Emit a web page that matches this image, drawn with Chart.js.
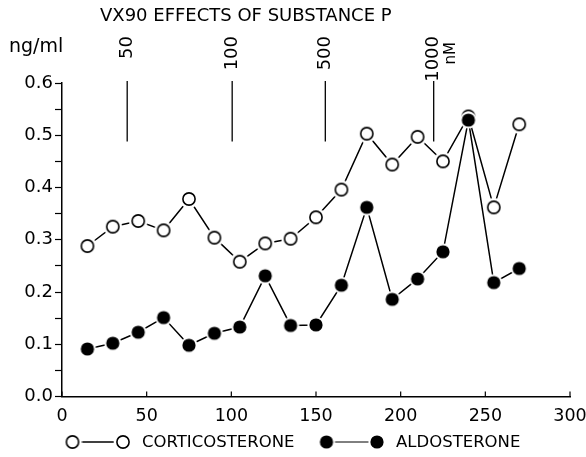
<!DOCTYPE html>
<html>
<head>
<meta charset="utf-8">
<title>VX90 effects of substance P</title>
<script src="https://cdn.jsdelivr.net/npm/chart.js@4"></script>
<style>
    html, body { margin: 0; padding: 0; background: #fff; }
    canvas { display: block; }
</style>
</head>
<body>
<canvas id="miGrafica" width="586" height="457"></canvas>
<script>
// Tiempo de cada muestra (eje X)
const tiempos = [15, 30, 45, 60, 75, 90, 105, 120, 135, 150, 165, 180, 195, 210, 225, 240, 255, 270];

// Valores en ng/ml
const corticosterona = [0.288, 0.325, 0.336, 0.318, 0.378, 0.304, 0.258, 0.293, 0.302, 0.343, 0.396, 0.503, 0.444, 0.497, 0.450, 0.536, 0.362, 0.521];
const aldosterona = [0.091, 0.102, 0.123, 0.151, 0.098, 0.121, 0.133, 0.231, 0.136, 0.137, 0.213, 0.362, 0.186, 0.225, 0.277, 0.529, 0.218, 0.245];

// Dosis de sustancia P y momento en que se aplican
const dosis = ['50', '100', '500', '1000'];
const tiempoDosis = [38.5, 100.5, 155.5, 219.5];

const titulo = 'VX90 EFFECTS OF SUBSTANCE P';
const unidadY = 'ng/ml';
const unidadDosis = 'nM';

const fuente = 'DejaVu Sans';
Chart.defaults.font.family = fuente;
Chart.defaults.color = '#000';

// Marcador con un halo blanco para que la linea no toque el circulo
function crearMarcador(relleno) {
    const c = document.createElement('canvas');
    c.width = 20;
    c.height = 20;
    const g = c.getContext('2d');
    g.fillStyle = '#fff';
    g.beginPath();
    g.arc(10, 10, relleno ? 8.6 : 9.4, 0, Math.PI * 2);
    g.fill();
    g.beginPath();
    if (relleno) {
        g.arc(10, 10, 6.6, 0, Math.PI * 2);
        g.fillStyle = '#000';
        g.fill();
    } else {
        g.arc(10, 10, 6.1, 0, Math.PI * 2);
        g.lineWidth = 1.6;
        g.strokeStyle = '#000';
        g.stroke();
    }
    return c;
}

const marcadorAbierto = crearMarcador(false);
const marcadorLleno = crearMarcador(true);

function puntos(valores) {
    return tiempos.map((t, i) => ({ x: t, y: valores[i] }));
}

// Textos, lineas de dosis, ticks interiores y leyenda
const anotaciones = {
    id: 'anotaciones',
    afterDraw(chart) {
        const ctx = chart.ctx;
        const x = chart.scales.x;
        const y = chart.scales.y;
        const area = chart.chartArea;

        ctx.save();
        ctx.fillStyle = '#000';
        ctx.strokeStyle = '#000';

        // titulo
        ctx.font = '18px "' + fuente + '"';
        ctx.textAlign = 'left';
        ctx.textBaseline = 'alphabetic';
        ctx.fillText(titulo, 100, 21);

        // unidad del eje Y
        ctx.font = '19px "' + fuente + '"';
        ctx.fillText(unidadY, 9, 52);

        // ticks del eje X hacia adentro
        ctx.lineWidth = 1.2;
        x.ticks.forEach(t => {
            const px = x.getPixelForValue(t.value);
            ctx.beginPath();
            ctx.moveTo(px, area.bottom);
            ctx.lineTo(px, area.bottom - 5);
            ctx.stroke();
        });

        // lineas de dosis
        ctx.lineWidth = 1.3;
        dosis.forEach((d, i) => {
            const px = x.getPixelForValue(tiempoDosis[i]);
            ctx.beginPath();
            ctx.moveTo(px, area.top - 2);
            ctx.lineTo(px, y.getPixelForValue(0.488));
            ctx.stroke();

            ctx.save();
            ctx.translate(px, 36);
            ctx.rotate(-Math.PI / 2);
            ctx.font = '18px "' + fuente + '"';
            ctx.textAlign = 'right';
            ctx.textBaseline = 'middle';
            ctx.fillText(d, 0, 0);
            ctx.restore();

            if (i === dosis.length - 1) {
                ctx.save();
                ctx.translate(px + 17, 42);
                ctx.rotate(-Math.PI / 2);
                ctx.font = '15px "' + fuente + '"';
                ctx.textAlign = 'right';
                ctx.textBaseline = 'middle';
                ctx.fillText(unidadDosis, 0, 0);
                ctx.restore();
            }
        });

        // leyenda
        const yLeyenda = 442;
        const inicios = [65, 319];
        const grosores = [1.5, 1];
        chart.data.datasets.forEach((ds, i) => {
            const x0 = inicios[i];
            const img = ds.pointStyle;
            ctx.lineWidth = grosores[i];
            ctx.beginPath();
            ctx.moveTo(x0 + 8, yLeyenda);
            ctx.lineTo(x0 + 52, yLeyenda);
            ctx.stroke();
            ctx.drawImage(img, x0 + 7.5 - img.width / 2, yLeyenda - img.height / 2);
            ctx.drawImage(img, x0 + 58 - img.width / 2, yLeyenda - img.height / 2);
            ctx.font = '16.5px "' + fuente + '"';
            ctx.textAlign = 'left';
            ctx.textBaseline = 'middle';
            ctx.fillText(ds.label, x0 + 77, yLeyenda + 1);
        });

        ctx.restore();
    }
};

const ctx = document.getElementById('miGrafica').getContext('2d');
const miGrafica = new Chart(ctx, {
    type: 'line',
    data: {
        datasets: [
            {
                label: 'CORTICOSTERONE',
                data: puntos(corticosterona),
                borderColor: '#000',
                borderWidth: 1.5,
                pointStyle: marcadorAbierto,
                pointRadius: 10,
                tension: 0,
                order: 1
            },
            {
                label: 'ALDOSTERONE',
                data: puntos(aldosterona),
                borderColor: '#000',
                borderWidth: 1.5,
                pointStyle: marcadorLleno,
                pointRadius: 10,
                tension: 0,
                order: 0
            }
        ]
    },
    options: {
        responsive: false,
        animation: false,
        layout: {
            padding: { left: 0, right: 16, top: 83, bottom: 0 }
        },
        plugins: {
            legend: { display: false },
            tooltip: { enabled: false },
            title: { display: false }
        },
        scales: {
            x: {
                type: 'linear',
                min: 0,
                max: 300,
                ticks: {
                    stepSize: 50,
                    padding: 9,
                    maxRotation: 0,
                    font: { size: 17.5 }
                },
                grid: { drawOnChartArea: false, drawTicks: false },
                border: { color: '#000', width: 1.5 },
                afterFit: scale => {
                    scale.height = 60.5;
                    scale.paddingLeft = 0;
                    scale.paddingRight = 0;
                }
            },
            y: {
                min: 0,
                max: 0.6,
                ticks: {
                    stepSize: 0.05,
                    padding: 2,
                    font: { size: 18 },
                    callback: v => (Math.round(v * 20) % 2 === 0 ? v.toFixed(1) : '')
                },
                grid: { drawOnChartArea: false, tickLength: 7, tickColor: '#000', tickWidth: 1.2 },
                border: { color: '#000', width: 1.5 },
                afterFit: scale => { scale.width = 62; }
            }
        }
    },
    plugins: [anotaciones]
});
</script>
</body>
</html>
